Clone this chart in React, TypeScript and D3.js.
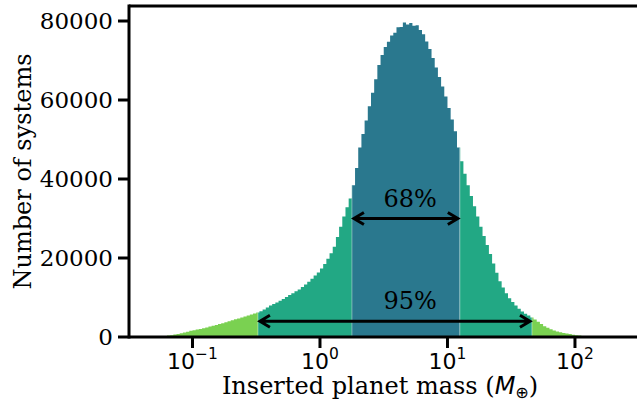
import React from "react";
import * as d3 from "d3";

// histogram of log10(mass) bins, 0.025 dex wide, first edge at 10^-1.3
const BIN_START = -1.3;
const BIN_STEP = 0.025;
const counts = [
  50, 100, 180, 250, 350, 460, 630, 790, 960, 1110,
  1340, 1570, 1720, 1900, 2050, 2200, 2400, 2660, 2840, 3010,
  3270, 3490, 3750, 4000, 4230, 4480, 4710, 4960, 5220, 5440,
  5700, 5920, 6180, 6510, 6990, 7470, 7950, 8360, 8730, 9170,
  9650, 10130, 10610, 11090, 11570, 12050, 12690, 13320, 13980, 14740,
  15550, 16360, 17340, 18480, 19780, 21220, 22840, 25320, 27900, 30490,
  32840, 35040, 38440, 42790, 47950, 51400, 54790, 58410, 61830, 65270,
  68840, 71400, 73450, 74740, 76300, 77000, 78400, 78500, 79600, 79100,
  79500, 78800, 78900, 77700, 76620, 74800, 72920, 70640, 68260, 65830,
  63450, 60890, 57980, 55040, 52060, 47950, 44510, 41320, 38410, 35670,
  33090, 30480, 27900, 25550, 23270, 21020, 18580, 16280, 14130, 12510,
  11090, 9820, 8840, 7950, 7140, 6480, 5900, 5420, 4910, 4410,
  3850, 3290, 2730, 2330, 1970, 1650, 1420, 1190, 1040, 890,
  730, 560, 460, 380, 280, 200, 130, 70, 30, 10,
];

// interval limits in Earth masses: 95% lo, 68% lo, 68% hi, 95% hi
const limits = [0.326, 1.78, 12.5, 46.0];
const colors = ["#7ad151", "#22a884", "#2a788e"];

const xTicks = [0.1, 1, 10, 100];
const xTickExp = ["\u22121", "0", "1", "2"];
const yTicks = [0, 20000, 40000, 60000, 80000];

const intervals = [
  { label: "68%", lo: limits[1], hi: limits[2], y: 30000, ty: 35000, tx: 5.1 },
  { label: "95%", lo: limits[0], hi: limits[3], y: 4000, ty: 9000, tx: 5.1 },
];

const W = 637;
const H = 405;
const font = "DejaVu Serif";
const mathFont = "DejaVu Sans";

export default function App() {
  const x = d3
    .scaleLog()
    .domain([Math.pow(10, -1.498), Math.pow(10, 2.667)])
    .range([129, 660]);
  const y = d3.scaleLinear().domain([0, 83800]).range([337, 6]);

  const pts: [number, number][] = counts.map((c, i) => [
    Math.pow(10, BIN_START + i * BIN_STEP),
    c,
  ]);
  pts.push([Math.pow(10, BIN_START + counts.length * BIN_STEP), counts[counts.length - 1]]);

  const area = d3
    .area<[number, number]>()
    .x((d) => x(d[0]))
    .y0(y(0))
    .y1((d) => y(d[1]))
    .curve(d3.curveStepAfter);
  const histPath = area(pts) || "";

  const [xl, xr] = x.range();
  const regions = [
    { lo: xl, hi: x(limits[0]), color: colors[0] },
    { lo: x(limits[0]), hi: x(limits[1]), color: colors[1] },
    { lo: x(limits[1]), hi: x(limits[2]), color: colors[2] },
    { lo: x(limits[2]), hi: x(limits[3]), color: colors[1] },
    { lo: x(limits[3]), hi: xr, color: colors[0] },
  ];

  const arrow = (x1: number, x2: number, yy: number) => {
    const hl = 10;
    const hw = 6;
    return (
      `M${x1},${yy}L${x2},${yy}` +
      `M${x1 + hl},${yy - hw}L${x1},${yy}L${x1 + hl},${yy + hw}` +
      `M${x2 - hl},${yy - hw}L${x2},${yy}L${x2 - hl},${yy + hw}`
    );
  };

  return (
    <svg
      width={W}
      height={H}
      style={{ position: "absolute", left: 0, top: 0, background: "#fff" }}
      fontFamily={font}
    >
      <defs>
        {regions.map((r, i) => (
          <clipPath id={"reg" + i} key={i}>
            <rect x={r.lo} y={0} width={r.hi - r.lo} height={H} />
          </clipPath>
        ))}
        <clipPath id="hist">
          <path d={histPath} />
        </clipPath>
      </defs>

      {regions.map((r, i) => (
        <path key={i} d={histPath} fill={r.color} clipPath={`url(#reg${i})`} />
      ))}
      <g clipPath="url(#hist)">
        {limits.map((m, i) => (
          <line
            key={i}
            x1={x(m)}
            x2={x(m)}
            y1={y(0)}
            y2={0}
            stroke="#ffffff"
            strokeOpacity={0.4}
            strokeWidth={1}
          />
        ))}
      </g>

      {intervals.map((iv) => (
        <g key={iv.label}>
          <path
            d={arrow(x(iv.lo) + 2, x(iv.hi) - 2, y(iv.y))}
            fill="none"
            stroke="#000"
            strokeWidth={3}
            strokeLinejoin="miter"
          />
          <text
            x={x(iv.tx)}
            y={y(iv.ty)}
            textAnchor="middle"
            dominantBaseline="central"
            fontSize={24}
          >
            {iv.label}
          </text>
        </g>
      ))}

      {/* spines */}
      <line x1={xl} x2={xl} y1={y.range()[1] - 1.5} y2={y(0) + 1.5} stroke="#000" strokeWidth={3} />
      <line x1={xl} x2={W} y1={y(0)} y2={y(0)} stroke="#000" strokeWidth={3} />
      <line x1={xl} x2={W} y1={y.range()[1]} y2={y.range()[1]} stroke="#000" strokeWidth={3} />

      {/* y axis */}
      {yTicks.map((t) => (
        <g key={t}>
          <line x1={xl - 11} x2={xl} y1={y(t)} y2={y(t)} stroke="#000" strokeWidth={3} />
          <text
            x={xl - 16}
            y={y(t)}
            textAnchor="end"
            dominantBaseline="central"
            fontSize={23}
          >
            {t}
          </text>
        </g>
      ))}
      <text
        transform={`translate(23,${(y.range()[0] + y.range()[1]) / 2}) rotate(-90)`}
        textAnchor="middle"
        dominantBaseline="central"
        fontSize={24}
      >
        Number of systems
      </text>

      {/* x axis */}
      {xTicks.map((t, i) => (
        <g key={t}>
          <line x1={x(t)} x2={x(t)} y1={y(0)} y2={y(0) + 11} stroke="#000" strokeWidth={3} />
          <text x={x(t)} y={369} textAnchor="middle" fontSize={22} fontFamily={mathFont}>
            10
            <tspan dy={-10} fontSize={15.5}>
              {xTickExp[i]}
            </tspan>
          </text>
        </g>
      ))}
      <text x={380} y={394} textAnchor="middle" fontSize={24}>
        Inserted planet mass (<tspan fontStyle="italic" fontFamily={mathFont}>M</tspan>
        <tspan fontSize={16} dy={4} fontFamily={mathFont}>⊕</tspan>
        <tspan dy={-4}>)</tspan>
      </text>
    </svg>
  );
}
